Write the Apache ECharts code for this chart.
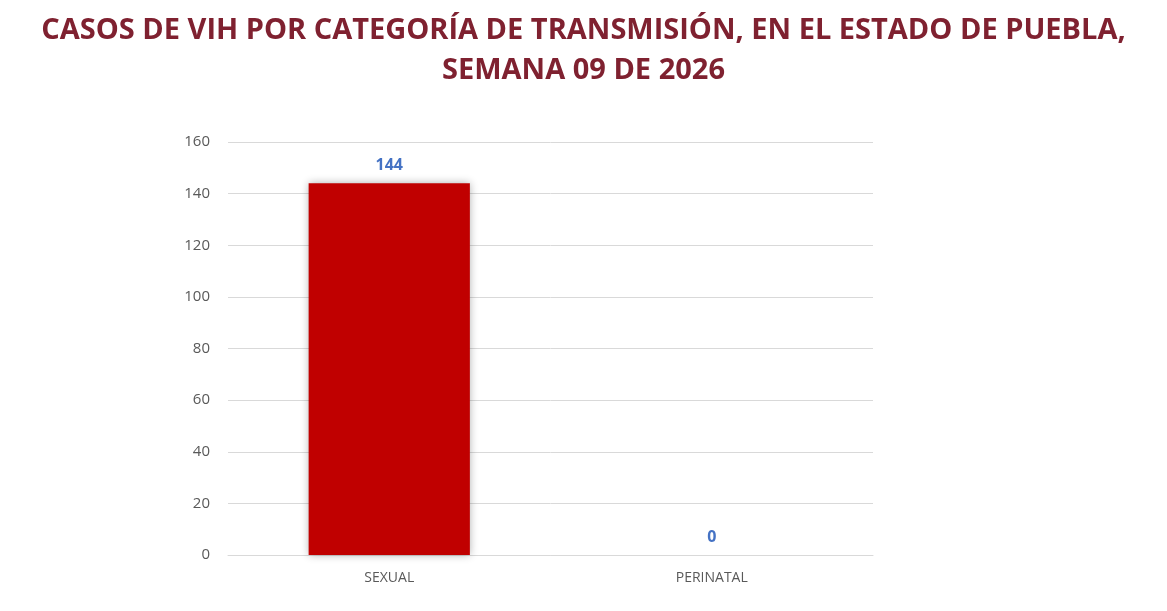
<!DOCTYPE html>
<html>
<head>
<meta charset="utf-8">
<script src="https://cdn.jsdelivr.net/npm/echarts@6/dist/echarts.min.js"></script>
<style>html,body{margin:0;padding:0;background:#fff}#chart{width:1167px;height:611px}</style>
</head>
<body>
<div id="chart"></div>
<script>
var categories = ['SEXUAL', 'PERINATAL']
var casos = [144, 0]

var myChart = echarts.init(document.getElementById('chart'))
myChart.setOption({
    title: {
        text: 'CASOS DE VIH POR CATEGORÍA DE TRANSMISIÓN, EN EL ESTADO DE PUEBLA,\nSEMANA 09 DE 2026',
        left: 'center',
        top: 6,
        textStyle: {
            fontFamily: 'Open Sans',
            fontSize: 29,
            fontWeight: 'bold',
            color: '#7f2130',
            lineHeight: 40
        }
    },
    grid: { left: 228, right: 294, top: 142, bottom: 56 },
    xAxis: {
        type: 'category',
        data: categories,
        axisTick: { show: false },
        axisLine: { lineStyle: { color: '#d9d9d9' } },
        axisLabel: { color: '#595959', fontSize: 14, margin: 16, fontFamily: 'Open Sans' }
    },
    yAxis: {
        type: 'value',
        min: 0,
        max: 160,
        interval: 20,
        axisLabel: { color: '#595959', fontSize: 15, margin: 18, fontFamily: 'Open Sans' },
        splitLine: { lineStyle: { color: '#d9d9d9' } }
    },
    series: [{
        type: 'bar',
        data: casos,
        barWidth: '50%',
        itemStyle: {
            color: '#c00000',
            shadowColor: 'rgba(0,0,0,0.3)',
            shadowBlur: 8
        },
        label: {
            show: true,
            position: 'top',
            distance: 10,
            color: '#4472c4',
            fontWeight: 'bold',
            fontSize: 16,
            fontFamily: 'Open Sans'
        }
    }]
})
</script>
</body>
</html>
